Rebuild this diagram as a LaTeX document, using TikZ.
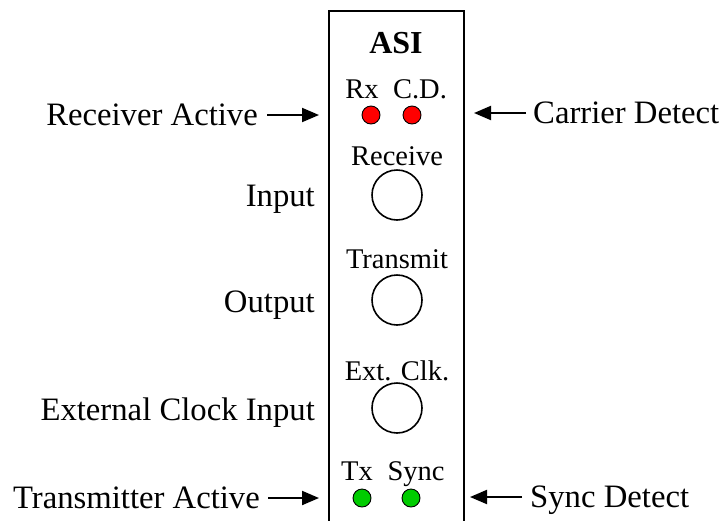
\documentclass[tikz,border=0pt]{standalone}
\usepackage{fontspec}
\setmainfont{Liberation Serif}
\usetikzlibrary{arrows.meta}
\definecolor{ledred}{RGB}{255,0,0}
\definecolor{ledgreen}{RGB}{0,204,0}
\tikzset{
  biglbl/.style={font=\fontsize{32.7}{34}\selectfont, inner sep=0pt},
  panlbl/.style={font=\fontsize{28.5}{30}\selectfont, inner sep=0pt, anchor=base},
  led/.style={circle, draw=black, line width=0.9pt, minimum size=18pt, inner sep=0pt},
  jack/.style={circle, draw=black, line width=1.6pt, minimum size=50pt, inner sep=0pt},
  arr/.style={line width=2pt, -{Triangle[length=17pt,width=14pt]}},
}
\begin{document}
\begin{tikzpicture}[x=1pt,y=-1pt]
\useasboundingbox (0,0) rectangle (722,520);
\begin{scope}
\clip (0,0) rectangle (722,520);
\draw[line width=1.3pt] (329,540) -- (329,11) -- (464,11) -- (464,540);
\end{scope}
% title
\node[font=\bfseries\fontsize{32}{34}\selectfont, inner sep=0pt, anchor=base] (asi) at (396,53) {ASI};
% LED labels
\node[panlbl] (rxl) at (362,98) {Rx};
\node[panlbl] (cdl) at (420,98) {C.D.};
\node[led, fill=ledred] (rx) at (371,115) {};
\node[led, fill=ledred] (cd) at (412,115) {};
% jacks
\node[panlbl] (recl) at (397,165) {Receive};
\node[jack] (rec) at (397,195) {};
\node[panlbl] (trl) at (397,268) {Transmit};
\node[jack] (tr) at (397,300) {};
\node[panlbl] (ecl) at (397,380) {Ext. Clk.};
\node[jack] (ec) at (397,408) {};
% bottom LEDs
\node[panlbl] (txl) at (357,480) {Tx};
\node[panlbl] (syl) at (416,480) {Sync};
\node[led, fill=ledgreen] (tx) at (362,498) {};
\node[led, fill=ledgreen] (sy) at (411,498) {};
% outside labels
\node[biglbl, anchor=base east] (ra) at (258,125) {Receiver Active};
\node[biglbl, anchor=base west] (cdt) at (533,123) {Carrier Detect};
\node[biglbl, anchor=base east] (inp) at (315,206) {Input};
\node[biglbl, anchor=base east] (outp) at (315,312) {Output};
\node[biglbl, anchor=base east] (eci) at (315,420) {External Clock Input};
\node[biglbl, anchor=base east] (ta) at (260,508) {Transmitter Active};
\node[biglbl, anchor=base west] (sdt) at (530,507) {Sync Detect};
% arrows
\coordinate (rastart) at (267,115);
\coordinate (raend) at (319,115);
\coordinate (cdstart) at (526,113);
\coordinate (cdend) at (474,113);
\coordinate (tastart) at (268,498);
\coordinate (taend) at (319,498);
\coordinate (sdstart) at (522,497);
\coordinate (sdend) at (470,497);
\draw[arr] (rastart) -- (raend);
\draw[arr] (cdstart) -- (cdend);
\draw[arr] (tastart) -- (taend);
\draw[arr] (sdstart) -- (sdend);
\end{tikzpicture}
\end{document}
